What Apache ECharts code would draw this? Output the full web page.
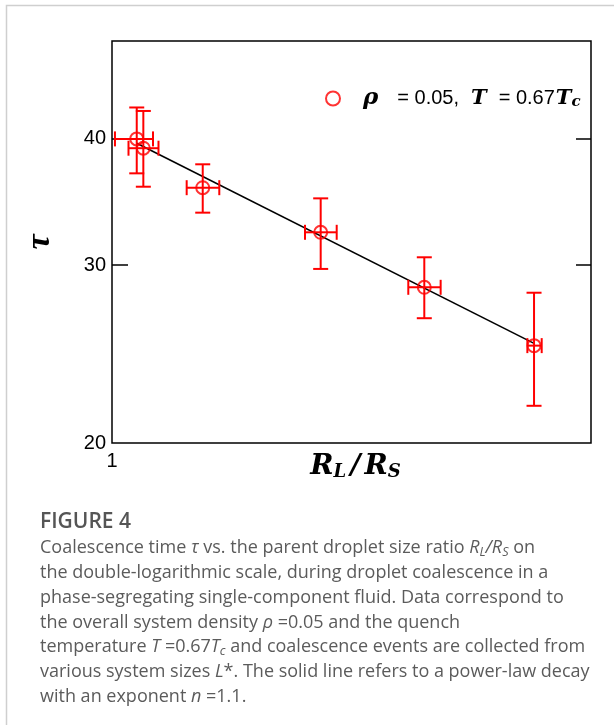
<!DOCTYPE html>
<html><head><meta charset="utf-8">
<script src="https://cdn.jsdelivr.net/npm/echarts@6/dist/echarts.min.js"></script>
<style>html,body{margin:0;padding:0;background:#fff}#c{width:614px;height:725px}</style>
</head><body><div id="c"></div><script>
// data
const ratio     = [1.0262, 1.0333, 1.0995, 1.2438, 1.3861, 1.5546];
const tau       = [40.00, 39.16, 35.79, 32.33, 28.52, 24.97];
const ratioLow  = [1.0031, 1.0174, 1.0812, 1.2236, 1.3631, 1.5438];
const ratioHigh = [1.0438, 1.0498, 1.1187, 1.2648, 1.4100, 1.5671];
const tauLow    = [36.98, 35.87, 33.81, 29.74, 26.58, 21.77];
const tauHigh   = [42.97, 42.63, 37.75, 34.93, 30.54, 28.17];
const fitRatio  = [1.0262, 1.5546];
const fitTau    = [39.6, 25.1];
const yLabels   = [20, 30, 40];
const yTicks    = [30, 40];
const xLabels   = [1];

const seriesName = 'rho';
const points = ratio.map((r, i) => [r, tau[i]]);
const bars = ratio.map((r, i) => [r, tau[i], ratioLow[i], ratioHigh[i], tauLow[i], tauHigh[i]]);
const fit = fitRatio.map((r, i) => [r, fitTau[i]]);

const chart = echarts.init(document.getElementById('c'), null, {renderer: 'canvas'});
const RED = '#ff0000';
const cap = 7.5;
const MATH = 'DejaVu Serif';

const captionLines = [
  'Coalescence time {i|τ} vs. the parent droplet size ratio {i|R}{is|L}{i|/R}{is|S} on',
  'the double-logarithmic scale, during droplet coalescence in a',
  'phase-segregating single-component fluid. Data correspond to',
  'the overall system density {i|ρ} =0.05 and the quench',
  'temperature {i|T} =0.67{i|T}{is|c} and coalescence events are collected from',
  'various system sizes {i|L}*. The solid line refers to a power-law decay',
  'with an exponent {i|n} =1.1.'
];
const capFont = 'Open Sans';
const capSize = 18;
const capColor = '#5b5b5b';
const capRich = {
  i: {fontFamily: capFont, fontSize: capSize, fontStyle: 'italic', fill: capColor},
  is: {fontFamily: capFont, fontSize: capSize * 0.7, fontStyle: 'italic', fill: capColor, verticalAlign: 'bottom', padding: [8, 0, 0, 0]}
};

const graphics = [
  {type: 'polyline', silent: true, shape: {points: [[6.5, 800], [6.5, 5.5], [700, 5.5]]},
   style: {stroke: '#cfcfcf', lineWidth: 1.5, fill: null}},
  {type: 'text', x: 40, y: 522, style: {text: 'FIGURE 4', font: '600 21px "Open Sans"', fill: '#555', verticalAlign: 'middle'}}
];
captionLines.forEach((t, k) => {
  graphics.push({type: 'text', x: 40, y: 548 + k * 24.8,
    style: {text: t, fontFamily: capFont, fontSize: capSize, fill: capColor, verticalAlign: 'middle', rich: capRich}});
});

const option = {
  backgroundColor: '#fff',
  animation: false,
  graphic: graphics,
  grid: {left: 112, right: 23, top: 41, bottom: 282, show: true, borderColor: '#000', borderWidth: 1.5, containLabel: false},
  legend: {
    left: 320, top: 82, itemWidth: 14, itemHeight: 14, icon: 'circle',
    itemStyle: {color: 'rgba(0,0,0,0)', borderColor: RED, borderWidth: 2},
    data: [seriesName],
    formatter: () => '{b|ρ}{n|= 0.05,}{b2|T}{n|= 0.67}{b3|T}{s|c}',
    textStyle: {
      padding: [0, 0, 0, 18],
      rich: {
        b: {fontFamily: MATH, fontStyle: 'italic', fontWeight: 'bold', fontSize: 23, color: '#000', padding: [0, 19, 0, 0]},
        b2: {fontFamily: MATH, fontStyle: 'italic', fontWeight: 'bold', fontSize: 21, color: '#000', padding: [0, 12, 0, 12]},
        b3: {fontFamily: MATH, fontStyle: 'italic', fontWeight: 'bold', fontSize: 21, color: '#000', padding: [0, 0, 0, 1]},
        n: {fontFamily: 'Liberation Sans', fontSize: 20, color: '#000'},
        s: {fontFamily: MATH, fontStyle: 'italic', fontWeight: 'bold', fontSize: 15, color: '#000', verticalAlign: 'bottom'}
      }
    }
  },
  xAxis: {
    type: 'log', min: 1, max: 1.65,
    axisLine: {show: false}, axisTick: {show: false}, splitLine: {show: false},
    axisLabel: {customValues: xLabels, fontFamily: 'Liberation Sans', fontSize: 20, color: '#000', margin: 8},
    name: '{r|R}{s|L}{sl|/}{r|R}{s|S}', nameLocation: 'middle', nameGap: 10, nameMoveOverlap: false,
    nameTextStyle: {
      padding: [0, 0, 0, 8],
      rich: {
        r: {fontFamily: MATH, fontStyle: 'italic', fontWeight: 'bold', fontSize: 28, color: '#000'},
        sl: {fontFamily: MATH, fontStyle: 'italic', fontWeight: 'bold', fontSize: 28, color: '#000', padding: [0, 4, 0, 4]},
        s: {fontFamily: MATH, fontStyle: 'italic', fontWeight: 'bold', fontSize: 18, color: '#000', verticalAlign: 'bottom'}
      }
    }
  },
  yAxis: [{
    type: 'log', min: 20, max: 50, position: 'left',
    axisLine: {show: false}, splitLine: {show: false},
    axisTick: {show: true, inside: true, length: 16, customValues: yTicks, lineStyle: {color: '#000', width: 1.5}},
    axisLabel: {customValues: yLabels, fontFamily: 'Liberation Sans', fontSize: 20, color: '#000', margin: 6},
    name: 'τ', nameLocation: 'middle', nameRotate: 90, nameGap: 55, nameMoveOverlap: false,
    nameTextStyle: {fontFamily: 'Liberation Serif', fontStyle: 'italic', fontWeight: 'bold', fontSize: 34, color: '#000'}
  }, {
    type: 'log', min: 20, max: 50, position: 'right',
    axisLine: {show: false}, splitLine: {show: false},
    axisTick: {show: true, inside: true, length: 15, customValues: yTicks, lineStyle: {color: '#000', width: 1.5}},
    axisLabel: {show: false}
  }],
  series: [
    {
      type: 'line', name: 'fit', data: fit, showSymbol: false, symbol: 'none',
      lineStyle: {color: '#000', width: 1.6}, z: 3, silent: true
    },
    {
      type: 'custom', name: 'err', data: bars, z: 4, silent: true,
      encode: {x: [0, 2, 3], y: [1, 4, 5]},
      renderItem: (params, api) => {
        const c = api.coord([api.value(0), api.value(1)]);
        const xl = api.coord([api.value(2), api.value(1)])[0];
        const xh = api.coord([api.value(3), api.value(1)])[0];
        const yl = api.coord([api.value(0), api.value(4)])[1];
        const yh = api.coord([api.value(0), api.value(5)])[1];
        const st = {stroke: RED, lineWidth: 2};
        const L = (x1, y1, x2, y2) => ({type: 'line', shape: {x1, y1, x2, y2}, style: st});
        return {type: 'group', children: [
          L(c[0], yh, c[0], yl), L(c[0] - cap, yh, c[0] + cap, yh), L(c[0] - cap, yl, c[0] + cap, yl),
          L(xl, c[1], xh, c[1]), L(xl, c[1] - cap, xl, c[1] + cap), L(xh, c[1] - cap, xh, c[1] + cap)
        ]};
      }
    },
    {
      type: 'scatter', name: seriesName, data: points, symbol: 'circle', symbolSize: 13, z: 5,
      itemStyle: {color: 'rgba(0,0,0,0)', borderColor: RED, borderWidth: 2}
    }
  ]
};
chart.setOption(option);
</script></body></html>
